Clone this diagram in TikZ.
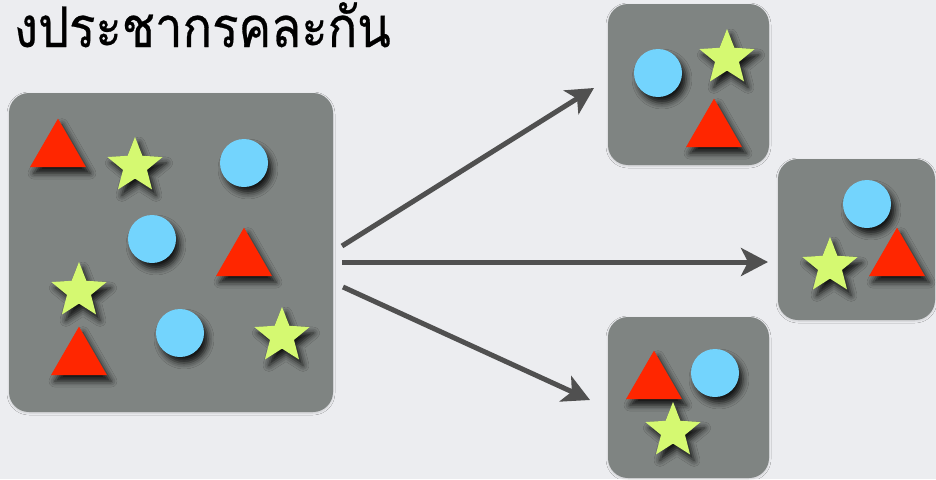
\documentclass[tikz,border=0pt]{standalone}
\usepackage{fontspec}
\newfontfamily\thaifont[Script=Thai,FakeStretch=0.875,FakeBold=0.5]{Loma}
\usetikzlibrary{shapes.geometric,arrows.meta,shadows.blur}
\definecolor{bgc}{HTML}{ECEDF0}
\definecolor{boxc}{HTML}{7F8482}
\definecolor{redc}{HTML}{FF2600}
\definecolor{bluec}{HTML}{73D4FD}
\definecolor{starc}{HTML}{D5F971}
\definecolor{arrc}{HTML}{505050}
\tikzset{
  shapeshadow/.style={blur shadow={shadow xshift=4pt,shadow yshift=-6pt,shadow blur radius=6pt,shadow opacity=85}},
  panel/.style={fill=boxc,rounded corners=20pt,draw=none,blur shadow={shadow xshift=0pt,shadow yshift=-1pt,shadow blur radius=2pt,shadow opacity=15}},
  tri/.style={regular polygon,regular polygon sides=3,minimum size=64.7pt,inner sep=0pt,fill=redc,draw=none,shapeshadow},
  ball/.style={circle,minimum size=48pt,inner sep=0pt,fill=bluec,draw=none,shapeshadow},
  starshape/.style={star,star points=5,star point ratio=2.3,minimum size=58pt,inner sep=0pt,fill=starc,draw=none,shapeshadow},
  arr/.style={draw=arrc,line width=5pt,-{Stealth[length=27pt,width=28pt,inset=7pt]}}
}
\begin{document}
\begin{tikzpicture}[x=1pt,y=-1pt]
\fill[bgc] (0,0) rectangle (936,479);
\useasboundingbox (0,0) rectangle (936,479);
% title
\node[font=\thaifont\fontsize{56}{60}\selectfont,anchor=base east,inner sep=0pt] (title) at (391,47) {งประชากรคละกัน};
% panels
\path[panel] (9,93) rectangle (333,412);
\path[panel] (608,4) rectangle (769,165);
\path[panel] (778,159) rectangle (935,320);
\path[panel] (608,317) rectangle (769,478);
% big panel shapes
\node[tri] (t1) at (58,151) {};
\node[starshape] (s1) at (135,166) {};
\node[ball] (c1) at (244,163) {};
\node[ball] (c2) at (152,239) {};
\node[tri] (t2) at (244,260) {};
\node[starshape] (s2) at (79,291) {};
\node[tri] (t3) at (79,359) {};
\node[ball] (c3) at (180,333) {};
\node[starshape] (s3) at (282,336) {};
% top panel
\node[ball] (ca) at (658,73) {};
\node[starshape] (sa) at (727,58) {};
\node[tri] (ta) at (714,131) {};
% middle panel
\node[ball] (cb) at (867,204) {};
\node[tri] (tb) at (897,260) {};
\node[starshape] (sb) at (830,266) {};
% bottom panel
\node[tri] (tc) at (654,383) {};
\node[ball] (cc) at (715,373) {};
\node[starshape] (sc) at (673,431) {};
% arrows
\coordinate (a1s) at (342,246);
\coordinate (a1e) at (594,88);
\coordinate (a2s) at (342,262);
\coordinate (a2e) at (768,262);
\coordinate (a3s) at (343,287);
\coordinate (a3e) at (590,400);
\draw[arr] (a1s) -- (a1e);
\draw[arr] (a2s) -- (a2e);
\draw[arr] (a3s) -- (a3e);
\end{tikzpicture}
\end{document}
